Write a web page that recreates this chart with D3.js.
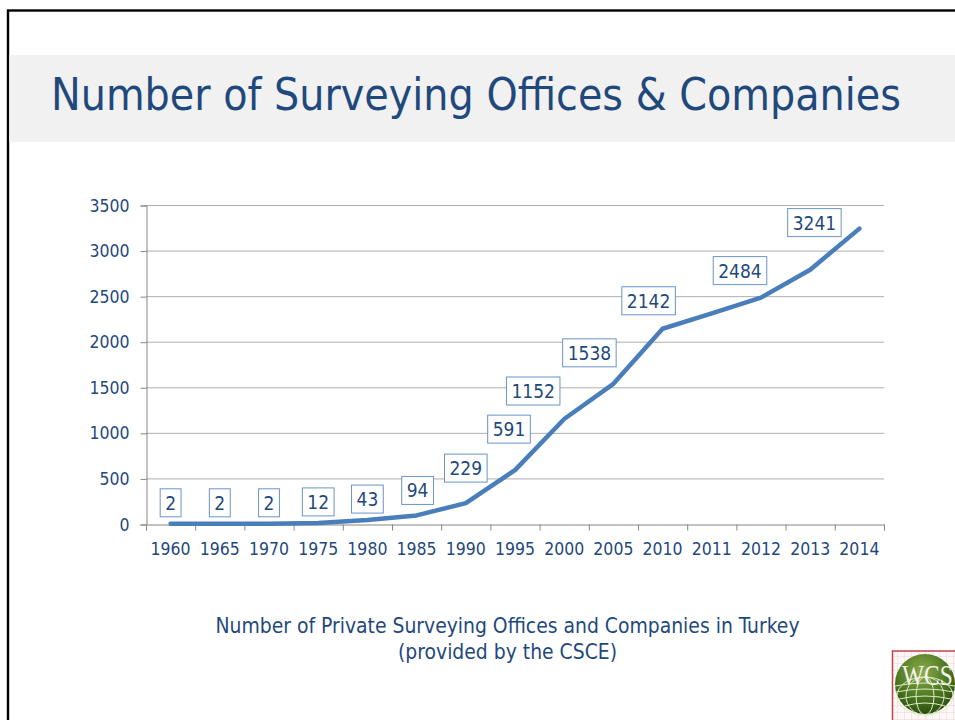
<!DOCTYPE html>
<html>
<head>
<meta charset="utf-8">
<script src="https://cdn.jsdelivr.net/npm/d3@7"></script>
<style>
  html, body { margin: 0; padding: 0; background: #fff; overflow: hidden; }
  text { font-family: 'DejaVu Sans Condensed', 'DejaVu Sans', sans-serif; font-stretch: condensed; fill: #1f497d; }
  .tick text { font-size: 17.5px; }
</style>
</head>
<body>
<div id="chart"></div>
<script>
var years = ['1960', '1965', '1970', '1975', '1980', '1985', '1990', '1995', '2000', '2005', '2010', '2011', '2012', '2013', '2014']
var offices = [2, 2, 2, 12, 43, 94, 229, 591, 1152, 1538, 2142, 2310, 2484, 2790, 3241]
var shownLabels = ['2', '2', '2', '12', '43', '94', '229', '591', '1152', '1538', '2142', '', '2484', '', '3241']
var yTicks = [0, 500, 1000, 1500, 2000, 2500, 3000, 3500]
var captionLines = ['Number of Private Surveying Offices and Companies in Turkey', '(provided by the CSCE)']

// the labels were dragged by hand in the original, so each has its own nudge
var labelNudgeX = [0, 0, 0, 0, 0, 1, 0, -6, -31, -24, -14, 0, -21, 0, -45]
var labelNudgeY = [-21, -21, -21, -21, -21, -25, -35, -41, -28, -31, -28, 0, -27, 0, -6]

var width = 955
var height = 720
var margin = { top: 205, right: 71, bottom: 196, left: 146 }

var svg = d3.select('#chart').append('svg')
  .attr('width', width)
  .attr('height', height)
  .style('display', 'block')

// Slide frame and title band
svg.append('rect')
  .attr('x', 8).attr('y', 10.5)
  .attr('width', width + 20).attr('height', height + 20)
  .attr('fill', 'none')
  .attr('stroke', '#000')
  .attr('stroke-width', 2.4)

svg.append('rect')
  .attr('x', 9.2).attr('y', 55)
  .attr('width', width - 9).attr('height', 87)
  .attr('fill', '#f1f1f1')

svg.append('text')
  .attr('x', 51).attr('y', 110)
  .attr('font-size', 45)
  .attr('textLength', 850)
  .attr('lengthAdjust', 'spacingAndGlyphs')
  .text('Number of Surveying Offices & Companies')

// Scales
var x = d3.scaleBand()
  .domain(d3.range(years.length))
  .range([margin.left, width - margin.right])

var y = d3.scaleLinear()
  .domain([0, 3500])
  .range([height - margin.bottom, margin.top])

// Gridlines
svg.append('g').selectAll('line')
  .data(yTicks.slice(1))
  .enter().append('line')
  .attr('x1', margin.left)
  .attr('x2', width - margin.right)
  .attr('y1', function (d) { return y(d) + 0.5 })
  .attr('y2', function (d) { return y(d) + 0.5 })
  .attr('stroke', '#b0aeae')
  .attr('stroke-width', 1)

// Axes
svg.append('g')
  .attr('transform', 'translate(' + (margin.left + 0.5) + ',0.5)')
  .call(d3.axisLeft(y).tickValues(yTicks).tickSize(6).tickPadding(11).tickFormat(d3.format('d')))

// Ticks sit between the categories, so the bottom axis uses the band edges
var xEdges = d3.range(years.length + 1).map(function (i) {
  return margin.left + i * x.bandwidth()
})
var edgeScale = d3.scaleLinear()
  .domain([margin.left, width - margin.right])
  .range([margin.left, width - margin.right])

svg.append('g')
  .attr('transform', 'translate(0,' + (height - margin.bottom + 0.5) + ')')
  .call(d3.axisBottom(edgeScale).tickValues(xEdges).tickSize(6).tickFormat(''))

svg.selectAll('.domain, .tick line').attr('stroke', '#868686')

svg.append('g').selectAll('text')
  .data(years)
  .enter().append('text')
  .attr('x', function (d, i) { return x(i) + x.bandwidth() / 2 })
  .attr('y', height - margin.bottom + 31)
  .attr('text-anchor', 'middle')
  .attr('font-size', 17.5)
  .text(function (d) { return d })

// The series
var line = d3.line()
  .x(function (d, i) { return x(i) + x.bandwidth() / 2 })
  .y(function (d) { return y(d) })

svg.append('path')
  .datum(offices)
  .attr('d', line)
  .attr('fill', 'none')
  .attr('stroke', '#4a7ebb')
  .attr('stroke-width', 4.5)
  .attr('stroke-linecap', 'round')
  .attr('stroke-linejoin', 'round')

// Boxed data labels
var labels = svg.append('g').selectAll('g')
  .data(d3.range(years.length).filter(function (i) { return shownLabels[i] !== '' }))
  .enter().append('g')
  .attr('transform', function (i) {
    var cx = x(i) + x.bandwidth() / 2 + labelNudgeX[i]
    var cy = y(offices[i]) + labelNudgeY[i]
    return 'translate(' + cx + ',' + cy + ')'
  })

labels.append('text')
  .attr('text-anchor', 'middle')
  .attr('y', 7)
  .attr('font-size', 19)
  .text(function (i) { return shownLabels[i] })

labels.insert('rect', 'text')
  .each(function () {
    var w = this.parentNode.querySelector('text').getComputedTextLength() + 10
    d3.select(this)
      .attr('x', -w / 2).attr('y', -14)
      .attr('width', w).attr('height', 28)
  })
  .attr('fill', '#fff')
  .attr('stroke', '#4f81bd')
  .attr('stroke-opacity', 0.85)
  .attr('stroke-width', 1)

// Caption
svg.append('g').selectAll('text')
  .data(captionLines)
  .enter().append('text')
  .attr('x', 507.5)
  .attr('y', function (d, i) { return 632.5 + i * 26 })
  .attr('text-anchor', 'middle')
  .attr('font-size', 20.9)
  .text(function (d) { return d })

// WCS logo in the corner
var defs = svg.append('defs')
var globeFill = defs.append('radialGradient')
  .attr('id', 'globeFill')
  .attr('cx', '45%').attr('cy', '30%').attr('r', '75%')
globeFill.append('stop').attr('offset', '0%').attr('stop-color', '#8dab4c')
globeFill.append('stop').attr('offset', '55%').attr('stop-color', '#4f7a22')
globeFill.append('stop').attr('offset', '100%').attr('stop-color', '#23480f')

var paperGrid = defs.append('pattern')
  .attr('id', 'paperGrid')
  .attr('width', 7).attr('height', 7)
  .attr('patternUnits', 'userSpaceOnUse')
paperGrid.append('rect').attr('width', 7).attr('height', 7).attr('fill', '#fdf8f8')
paperGrid.append('path')
  .attr('d', 'M7,0H0V7')
  .attr('fill', 'none')
  .attr('stroke', '#f0d0d4')
  .attr('stroke-width', 1)

var logo = svg.append('g').attr('transform', 'translate(925,684)')
logo.append('rect')
  .attr('x', -32.5).attr('y', -33)
  .attr('width', 80).attr('height', 80)
  .attr('fill', 'url(#paperGrid)')
  .attr('stroke', '#c0404a')
  .attr('stroke-width', 1.5)
logo.append('circle')
  .attr('r', 30)
  .attr('fill', 'url(#globeFill)')
var grid = logo.append('g')
  .attr('fill', 'none')
  .attr('stroke', '#dfe8c4')
  .attr('stroke-width', 1)
grid.selectAll('ellipse')
  .data([9, 19, 28])
  .enter().append('ellipse')
  .attr('rx', function (d) { return d })
  .attr('cy', 12)
  .attr('ry', 19)
grid.selectAll('path')
  .data([2, 8, 15, 22])
  .enter().append('path')
  .attr('d', function (d) {
    var half = Math.sqrt(900 - d * d)
    return 'M' + (-half) + ',' + d + 'Q0,' + (d - 6) + ' ' + half + ',' + d
  })
// squeezed with a transform so the whole word stays inside the page
logo.append('text')
  .attr('transform', 'translate(-23,1) scale(0.78,1)')
  .attr('font-size', 30)
  .style('font-family', "'Liberation Serif', serif")
  .style('font-stretch', 'normal')
  .style('fill', '#f4f4ee')
  .text('WCS')
</script>
</body>
</html>
